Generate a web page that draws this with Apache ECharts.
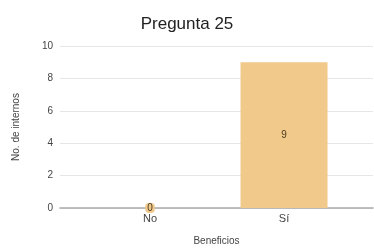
<!DOCTYPE html>
<html>
<head>
<meta charset="utf-8">
<script src="https://cdn.jsdelivr.net/npm/echarts@6/dist/echarts.min.js"></script>
<style>
  html, body { margin: 0; padding: 0; background: #fff; }
  #main { width: 374px; height: 248px; }
</style>
</head>
<body>
<div id="main"></div>
<script>
const categories = ["No", "Sí"];
const internos = [0, 9];
const yTicks = [0, 2, 4, 6, 8, 10];

// categories sit on a value axis so the gridlines can run wider than the bars
const catPos = categories.map((c, i) => i);
const barData = internos.map((v, i) => [catPos[i], v]);

let myEchart = echarts.init(document.getElementById("main"));
let option = {
  animation: false,
  textStyle: { fontFamily: "Liberation Sans, Arial, sans-serif" },
  title: {
    text: "Pregunta 25",
    left: "center",
    top: 11,
    textStyle: { fontSize: 17, fontWeight: "normal", color: "#222" },
  },
  grid: { left: 60, right: 1, top: 46, bottom: 40, outerBoundsMode: "none", containLabel: false },
  xAxis: {
    type: "value",
    min: -0.672,
    max: 1.664,
    name: "Beneficios",
    nameLocation: "middle",
    nameGap: 28,
    nameTextStyle: { fontSize: 10, color: "#444" },
    axisLine: { show: true, lineStyle: { color: "#aaa", width: 1.5 } },
    axisTick: { show: false },
    splitLine: { show: false },
    axisLabel: {
      customValues: catPos,
      fontSize: 11,
      color: "#444",
      margin: 5,
      formatter: (v) => categories[Math.round(v)],
    },
  },
  yAxis: {
    type: "value",
    min: yTicks[0],
    max: yTicks[yTicks.length - 1],
    interval: 2,
    name: "No. de internos",
    nameLocation: "middle",
    nameRotate: 90,
    nameGap: 39,
    nameTextStyle: { fontSize: 10, color: "#444" },
    axisLine: { show: false },
    axisTick: { show: false },
    axisLabel: { fontSize: 10, color: "#444", margin: 7 },
    splitLine: { lineStyle: { color: "#e6e6e6", width: 1 } },
  },
  series: [
    {
      type: "bar",
      data: barData,
      barWidth: 87,
      itemStyle: { color: "#f0c98b" },
      label: {
        show: true,
        position: "inside",
        fontSize: 10,
        color: "#4a3a1e",
        backgroundColor: "#f0c98b",
        padding: [0, 2],
        borderRadius: 4,
        formatter: (p) => p.value[1],
      },
    },
  ],
};
myEchart.setOption(option, true);
</script>
</body>
</html>
